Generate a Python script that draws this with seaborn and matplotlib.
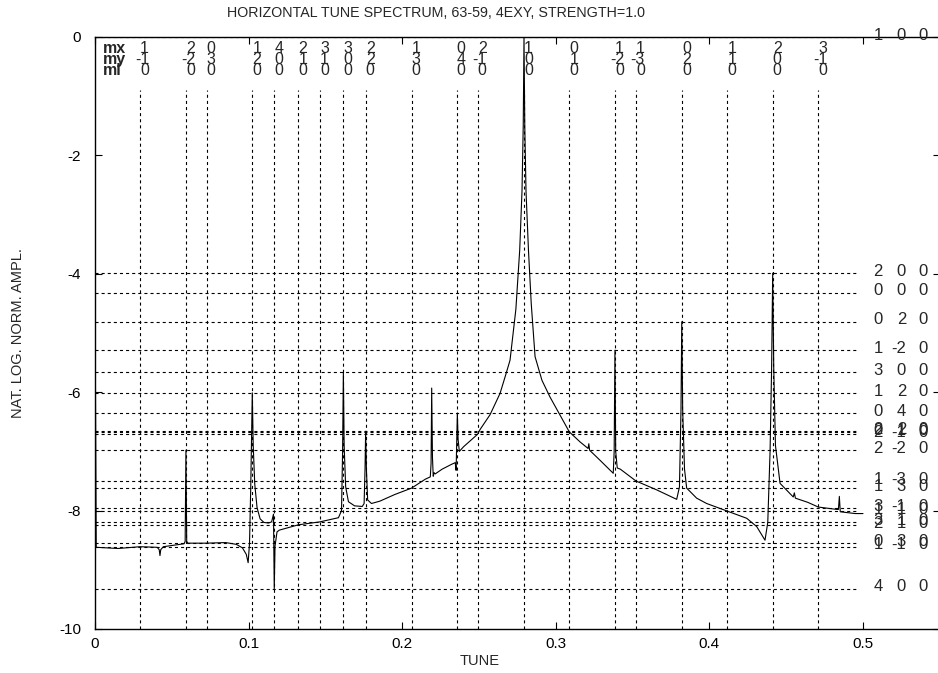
import numpy as np
import pandas as pd
import matplotlib
matplotlib.use("Agg")
import matplotlib.pyplot as plt
import matplotlib.transforms as mtransforms
import seaborn as sns

# ---------------- data ----------------
spec_tune = [0.0000, 0.0008, 0.0150, 0.0293, 0.0405, 0.0418, 0.0423, 0.0428, 0.0445,
             0.0580, 0.0587, 0.0592, 0.0597, 0.0605, 0.0727, 0.0850, 0.0920, 0.0960,
             0.0985, 0.0997, 0.1006, 0.1014, 0.1020, 0.1024, 0.1030, 0.1040, 0.1055,
             0.1075, 0.1100, 0.1130, 0.1150, 0.1162, 0.1167, 0.1172, 0.1185, 0.1200,
             0.1324, 0.1465, 0.1585, 0.1605, 0.1612, 0.1617, 0.1622, 0.1632, 0.1650,
             0.1690, 0.1740, 0.1752, 0.1758, 0.1762, 0.1767, 0.1775, 0.1800, 0.1855,
             0.1950, 0.2061, 0.2150, 0.2183, 0.2188, 0.2192, 0.2197, 0.2202, 0.2208,
             0.2215, 0.2260, 0.2320, 0.2345, 0.2351, 0.2355, 0.2359, 0.2364, 0.2372,
             0.2400, 0.2491, 0.2507, 0.2572, 0.2637, 0.2670, 0.2702, 0.2740, 0.2765,
             0.2780, 0.2788, 0.2793, 0.2798, 0.2806, 0.2822, 0.2840, 0.2865, 0.2910,
             0.2962, 0.3030, 0.3088, 0.3158, 0.3210, 0.3215, 0.3220, 0.3288, 0.3374,
             0.3380, 0.3385, 0.3390, 0.3400, 0.3420, 0.3522, 0.3657, 0.3787, 0.3805,
             0.3815, 0.3820, 0.3826, 0.3838, 0.3852, 0.3917, 0.3982, 0.4117, 0.4243,
             0.4308, 0.4362, 0.4380, 0.4395, 0.4405, 0.4412, 0.4419, 0.4430, 0.4460,
             0.4546, 0.4553, 0.4560, 0.4640, 0.4709, 0.4829, 0.4840, 0.4846, 0.4852,
             0.4950, 0.5000]
spec_ampl = [-4.32, -8.62, -8.64, -8.61, -8.62, -8.66, -8.76, -8.66, -8.61,
             -8.56, -8.52, -6.98, -8.52, -8.55, -8.55, -8.54, -8.57, -8.63,
             -8.74, -8.88, -8.55, -7.60, -6.60, -6.01, -6.90, -7.55, -7.95,
             -8.14, -8.20, -8.21, -8.19, -8.06, -9.32, -8.60, -8.36, -8.33,
             -8.24, -8.19, -8.12, -8.00, -7.00, -5.66, -6.90, -7.60, -7.85,
             -7.92, -7.93, -7.88, -7.30, -6.66, -7.30, -7.82, -7.88, -7.84,
             -7.73, -7.62, -7.47, -7.43, -7.20, -5.93, -7.10, -7.42, -7.36,
             -7.38, -7.30, -7.22, -7.19, -7.32, -6.80, -6.36, -6.80, -7.00,
             -6.92, -6.71, -6.63, -6.38, -6.02, -5.74, -5.46, -4.60, -3.60,
             -2.60, -1.50, 0.00, -1.50, -2.60, -3.60, -4.50, -5.40, -5.80,
             -6.08, -6.40, -6.67, -6.84, -6.95, -6.87, -6.98, -7.15, -7.37,
             -7.00, -5.29, -7.00, -7.28, -7.30, -7.50, -7.65, -7.81, -7.60,
             -6.30, -4.81, -6.30, -7.30, -7.62, -7.79, -7.88, -8.01, -8.13,
             -8.27, -8.50, -8.20, -7.00, -5.60, -3.99, -5.60, -6.90, -7.54,
             -7.77, -7.70, -7.79, -7.86, -7.94, -7.98, -7.98, -7.76, -8.02,
             -8.05, -8.05]

# resonance lines (vertical) with their (mx, my, ml) labels
res_tune = [0.0293, 0.0592, 0.0727, 0.1024, 0.1167, 0.1324, 0.1465, 0.1617, 0.1762,
            0.2061, 0.2355, 0.2491, 0.2793, 0.3088, 0.3385, 0.3522, 0.3820, 0.4117,
            0.4412, 0.4709]
res_mx = [1, 2, 0, 1, 4, 2, 3, 3, 2, 1, 0, 2, 1, 0, 1, 1, 0, 1, 2, 3]
res_my = [-1, -2, 3, 2, 0, 1, 1, 0, 2, 3, 4, -1, 0, 1, -2, -3, 2, 1, 0, -1]
res_ml = [0] * 20

# amplitude levels (horizontal) with their labels
lvl_value = [0.00, -3.99, -4.32, -4.81, -5.29, -5.66, -6.01, -6.35, -6.66, -6.67,
             -6.71, -6.98, -7.50, -7.62, -7.96, -8.01, -8.19, -8.24, -8.55, -8.61, -9.32]
lvl_mx = [1, 2, 0, 0, 1, 3, 1, 0, 2, 0, 2, 2, 1, 1, 3, 1, 3, 2, 0, 1, 4]
lvl_my = [0, 0, 0, 2, -2, 0, 2, 4, 2, 1, -1, -2, -3, 3, -1, 1, 1, 1, 3, -1, 0]
lvl_ml = [0] * 21

x_ticks = [0, 0.1, 0.2, 0.3, 0.4, 0.5]
x_ticklabels = ["0", "0.1", "0.2", "0.3", "0.4", "0.5"]
y_ticks = [0, -2, -4, -6, -8, -10]
y_ticklabels = ["0", "-2", "-4", "-6", "-8", "-10"]

title = "HORIZONTAL TUNE SPECTRUM, 63-59, 4EXY, STRENGTH=1.0"
xlabel = "TUNE"
ylabel = "NAT. LOG. NORM. AMPL."
head_labels = ["mx", "my", "ml"]

# ---------------- styling ----------------
sns.set_style("ticks")
plt.rcParams['font.family'] = ['Liberation Sans', 'DejaVu Sans']
plt.rcParams['axes.unicode_minus'] = False
plt.rcParams['lines.scale_dashes'] = False

W, H = 938, 673
fig = plt.figure(figsize=(W / 100, H / 100), dpi=100)
x0_px, top_px, bot_px = 95, 37, 629
px_per_unit = 1536.0
xmax = 0.55
ax = fig.add_axes([x0_px / W, (H - bot_px) / H,
                   xmax * px_per_unit / W, (bot_px - top_px) / H])
ax.set_xlim(0, xmax)
ax.set_ylim(-10, 0)

dot = (0, (2.2, 2.2))
ax.vlines(res_tune, -10, -0.9, colors="black", linestyles=[dot], linewidth=0.8)
ax.hlines(lvl_value, 0, 0.497, colors="black", linestyles=[dot], linewidth=0.8)

df = pd.DataFrame({"tune": spec_tune, "ampl": spec_ampl})
sns.lineplot(data=df, x="tune", y="ampl", ax=ax, color="black", linewidth=0.8,
             sort=False, estimator=None)

# top resonance labels
fs_top = 11.5
off = mtransforms.offset_copy(ax.transData, fig=fig, x=9, y=0, units='dots')
row_y = [-0.27, -0.45, -0.645]
for t, a, b, c in zip(res_tune, res_mx, res_my, res_ml):
    for yy, v in zip(row_y, (a, b, c)):
        ax.text(t, yy, str(v), transform=off, ha='right', va='baseline', fontsize=fs_top)
for yy, s in zip(row_y, head_labels):
    ax.text(0.005, yy, s, ha='left', va='baseline', fontsize=fs_top, fontweight='bold')

# right level labels
col_x = [0.5130, 0.5280, 0.5423]
for v, a, b, c in zip(lvl_value, lvl_mx, lvl_my, lvl_ml):
    for cx, n in zip(col_x, (a, b, c)):
        ax.text(cx, v + 0.03, str(n), ha='right', va='center', fontsize=12)

ax.set_xticks(x_ticks)
ax.set_xticklabels(x_ticklabels)
ax.set_yticks(y_ticks)
ax.set_yticklabels(y_ticklabels)
ax.tick_params(direction='in', length=5, width=0.8, top=True, right=True,
               labelsize=11, colors='black')
ax.tick_params(axis='x', pad=6)
ax.tick_params(axis='y', pad=10)
for s in ax.spines.values():
    s.set_linewidth(1.0)
    s.set_color('black')
ax.set_xlabel("")
ax.set_ylabel("")

fig.text(436 / W, 1 - 13 / H, title, ha='center', va='center', fontsize=10.3)
fig.text(480 / W, 1 - 661 / H, xlabel, ha='center', va='center', fontsize=10.5)
fig.text(18 / W, 1 - 333 / H, ylabel, ha='center', va='center', fontsize=10.5,
         rotation=90)

fig.savefig("out.png", dpi=100)
